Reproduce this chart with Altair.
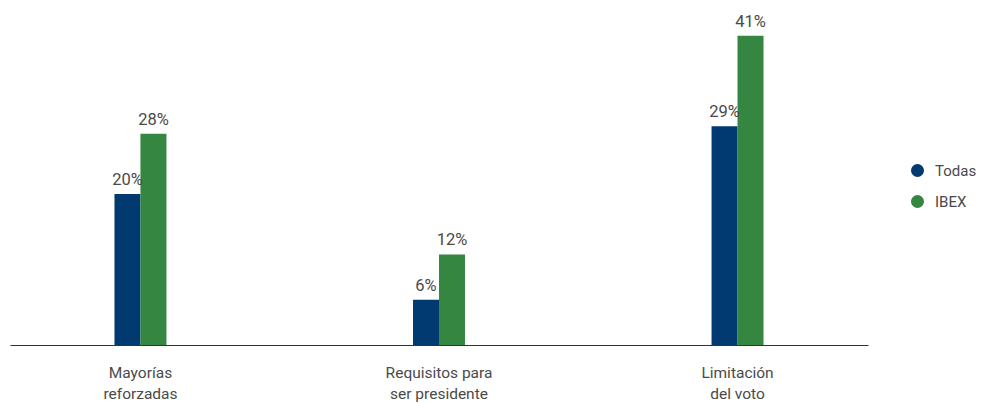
import altair as alt
import pandas as pd

categories = ["Mayorías\nreforzadas", "Requisitos para\nser presidente", "Limitación\ndel voto"]
series = ["Todas", "IBEX"]
todas = [20, 6, 29]
ibex = [28, 12, 41]
colors = ["#003A70", "#348641"]

rows = []
for c, t, i in zip(categories, todas, ibex):
    rows.append({"cat": c, "serie": "Todas", "val": t, "label": f"{t}%"})
    rows.append({"cat": c, "serie": "IBEX", "val": i, "label": f"{i}%"})
df = pd.DataFrame(rows)

FONT = "Roboto, sans-serif"

x = alt.X("cat:N", sort=categories, title=None,
          scale=alt.Scale(paddingInner=0.826, paddingOuter=0.35),
          axis=alt.Axis(labelAngle=0, ticks=False, labelPadding=20, labelFontSize=15.5,
                        labelColor="#4a4a4a", labelFont=FONT, labelLineHeight=21,
                        domainColor="#333333", domainWidth=1.2, labelExpr="split(datum.label, '\\n')"))
y = alt.Y("val:Q", title=None, scale=alt.Scale(domain=[0, 44], nice=False),
          axis=None)
xo = alt.XOffset("serie:N", sort=series, scale=alt.Scale(paddingInner=0, paddingOuter=0))
color = alt.Color("serie:N", sort=series, title=None,
                  scale=alt.Scale(domain=series, range=colors),
                  legend=alt.Legend(orient="none", legendX=900, legendY=150, symbolType="circle",
                                    symbolSize=170, labelFontSize=15, labelColor="#4a4a4a",
                                    labelFont=FONT, rowPadding=15, padding=0, labelOffset=10,
                                    symbolStrokeWidth=0))

base = alt.Chart(df).encode(x=x, xOffset=xo)
bars = base.mark_bar(size=26).encode(y=y, color=color)
texts = base.mark_text(dy=-14, fontSize=16.5, color="#4a4a4a", font=FONT).encode(
    y=y, text="label:N")

chart = (bars + texts).properties(
    width=858, height=332,
    autosize=alt.AutoSizeParams(type="none"),
    padding={"left": 2, "top": 5, "right": 111, "bottom": 58},
).configure_view(stroke=None).configure_scale(bandPaddingInner=0)

chart.save("out.html", embed_options={"renderer": "svg", "actions": False})
